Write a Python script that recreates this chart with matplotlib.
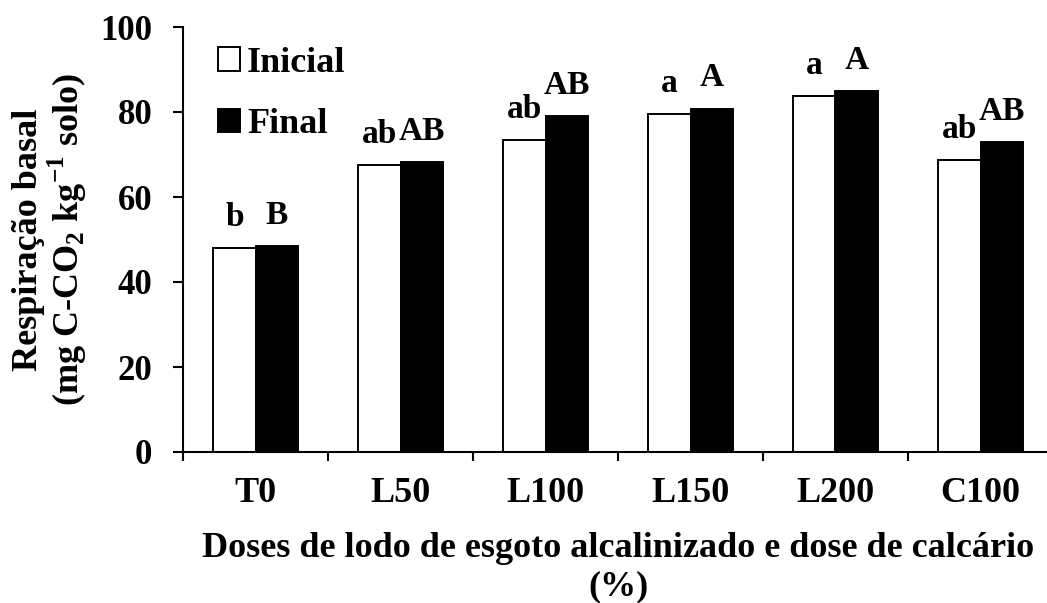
import numpy as np
import matplotlib
matplotlib.use("Agg")
import matplotlib.pyplot as plt

plt.rcParams['font.family'] = ['Liberation Serif', 'DejaVu Serif']
plt.rcParams['font.weight'] = 'bold'
plt.rcParams['mathtext.fontset'] = 'custom'
plt.rcParams['mathtext.rm'] = 'Liberation Serif:bold'

# dados
tratamentos = ['T0', 'L50', 'L100', 'L150', 'L200', 'C100']
inicial = [48.0, 67.5, 73.3, 79.5, 83.7, 68.7]
final = [48.5, 68.3, 79.1, 80.8, 84.9, 72.9]
letras_inicial = ['b', 'ab', 'ab', 'a', 'a', 'ab']
letras_final = ['B', 'AB', 'AB', 'A', 'A', 'AB']

fig = plt.figure(figsize=(10.47, 6.03), dpi=100)
# eixo estende além da borda direita, como no original
ax = fig.add_axes([183 / 1047, 1 - 452 / 603, 870 / 1047, 425 / 603])

x = np.arange(len(tratamentos))
w = 0.29
ax.bar(x - w / 2, inicial, w, color='white', edgecolor='black', linewidth=1.4, label='Inicial')
ax.bar(x + w / 2, final, w, color='black', edgecolor='black', linewidth=1.4, label='Final')

for xi, v, t in zip(x, inicial, letras_inicial):
    ax.annotate(t, (xi - w / 2, v), xytext=(0, 16), textcoords='offset points',
                ha='center', va='baseline', fontsize=24, fontweight='bold')
for xi, v, t in zip(x, final, letras_final):
    ax.annotate(t, (xi + w / 2, v), xytext=(0, 16), textcoords='offset points',
                ha='center', va='baseline', fontsize=24, fontweight='bold')

ax.set_xlim(-0.5, len(tratamentos) - 0.5)
ax.set_ylim(0, 100)
ax.set_yticks([0, 20, 40, 60, 80, 100])
ax.set_xticks(x)
ax.set_xticklabels(tratamentos)
ax.set_xticks(np.arange(-0.5, len(tratamentos), 1), minor=True)
ax.tick_params(axis='x', which='major', length=0, pad=18, labelsize=26)
ax.tick_params(axis='x', which='minor', length=6.5, width=1.5, direction='out')
ax.tick_params(axis='y', length=7.2, width=1.5, direction='out', labelsize=25, pad=15)

for s in ['top', 'right']:
    ax.spines[s].set_visible(False)
for s in ['left', 'bottom']:
    ax.spines[s].set_linewidth(1.5)

ax.set_ylabel('Respiração basal\n(mg C-CO$_\\mathregular{2}$ kg$^\\mathregular{-1}$ solo)',
              fontsize=26, fontweight='bold', labelpad=8, linespacing=1.03)
ax.set_xlabel('Doses de lodo de esgoto alcalinizado e dose de calcário\n(%)',
              fontsize=26, fontweight='bold', labelpad=16, linespacing=1.2)

ax.legend(loc='upper left', bbox_to_anchor=(0.003, 1.03), frameon=False, fontsize=26,
          handlelength=0.62, handleheight=0.62, handletextpad=0.18, labelspacing=0.78)

fig.savefig('out.png', dpi=100)
